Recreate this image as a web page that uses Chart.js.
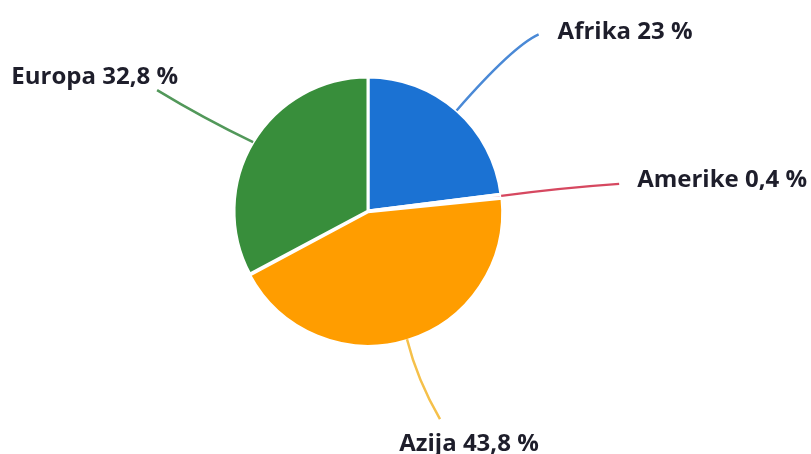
<!DOCTYPE html>
<html>
<head>
<meta charset="utf-8">
<script src="https://cdn.jsdelivr.net/npm/chart.js@4.4.1/dist/chart.umd.min.js"></script>
<style>
  html, body { margin: 0; padding: 0; background: #fff; }
  #wrap { width: 811px; height: 454px; }
</style>
</head>
<body>
<div id="wrap"><canvas id="grafico" width="811" height="454"></canvas></div>
<script>
const kontinenti = ["Afrika", "Amerike", "Azija", "Europa"];
const udjeli = [23, 0.4, 43.8, 32.8];
const boje = ["#1b72d3", "#d63a50", "#ff9d00", "#388e3b"];
const bojeLinija = ["#4a89d6", "#d64860", "#f5c04a", "#52985a"];

// kraj linije i kontrolna tocka krivulje, relativno prema rubu kriske
const oznake = [
    { kraj: [82, -76], ctrl: [56, -64], tekst: [19, 5], align: "left" },
    { kraj: [118, -12], ctrl: [60, -8], tekst: [18, 3], align: "left" },
    { kraj: [33, 80], ctrl: [10, 40], tekst: [29, 32], align: "center" },
    { kraj: [-96, -52], ctrl: [-50, -24], tekst: [21, -6], align: "right" }
];

const fmt = v => v.toLocaleString('hr-HR') + " %";

const pluginOznake = {
    id: 'oznake',
    afterDatasetsDraw(chart) {
        const ctx = chart.ctx;
        const meta = chart.getDatasetMeta(0);
        meta.data.forEach((arc, i) => {
            const o = oznake[i];
            const mid = (arc.startAngle + arc.endAngle) / 2;
            const sx = arc.x + Math.cos(mid) * arc.outerRadius;
            const sy = arc.y + Math.sin(mid) * arc.outerRadius;
            const ex = sx + o.kraj[0], ey = sy + o.kraj[1];
            ctx.save();
            ctx.strokeStyle = bojeLinija[i];
            ctx.lineWidth = 2.5;
            ctx.beginPath();
            ctx.moveTo(sx, sy);
            ctx.quadraticCurveTo(sx + o.ctrl[0], sy + o.ctrl[1], ex, ey);
            ctx.stroke();
            ctx.fillStyle = "#1e1e2b";
            ctx.font = "bold 24px 'Open Sans'";
            ctx.textAlign = o.align;
            ctx.textBaseline = "alphabetic";
            ctx.fillText(kontinenti[i] + " " + fmt(udjeli[i]), ex + o.tekst[0], ey + o.tekst[1]);
            ctx.restore();
        });
    }
};

new Chart(document.getElementById('grafico'), {
    type: 'pie',
    data: {
        labels: kontinenti,
        datasets: [{
            data: udjeli,
            backgroundColor: boje,
            borderColor: '#ffffff',
            borderWidth: 3,
            offset: [0, 0, 3, 0]
        }]
    },
    options: {
        responsive: false,
        animation: false,
        layout: { padding: { top: 74, bottom: 106, left: 231, right: 306 } },
        plugins: { legend: { display: false }, tooltip: { enabled: false } }
    },
    plugins: [pluginOznake]
});
</script>
</body>
</html>
